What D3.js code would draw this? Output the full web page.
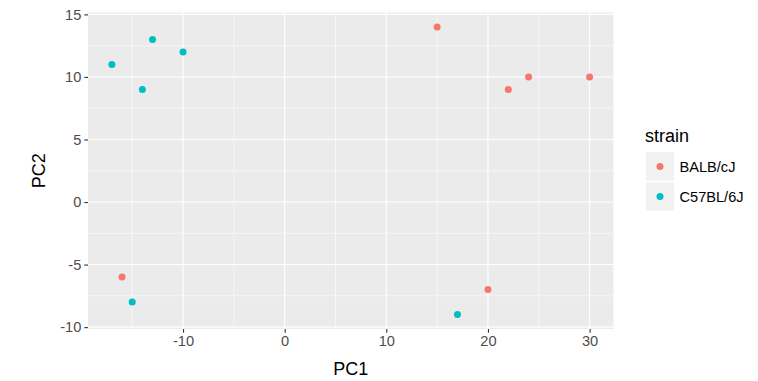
<!DOCTYPE html>
<html>
<head>
<meta charset="utf-8">
<script src="https://cdn.jsdelivr.net/npm/d3@7"></script>
<style>
  body { margin: 0; background: #fff; }
  svg { display: block; }
  text { font-family: "Liberation Sans", Arial, sans-serif; }
</style>
</head>
<body>
<svg id="chart" width="758" height="381"></svg>
<script>
// Data
const strains = ["BALB/cJ", "C57BL/6J"];
const colors = ["#F8766D", "#00BFC4"];
const pc1 = [15, 22, 24, 30, -16, 20, -17, -13, -10, -14, -15, 17];
const pc2 = [14, 9, 10, 10, -6, -7, 11, 13, 12, 9, -8, -9];
const strainOf = ["BALB/cJ", "BALB/cJ", "BALB/cJ", "BALB/cJ", "BALB/cJ", "BALB/cJ",
                  "C57BL/6J", "C57BL/6J", "C57BL/6J", "C57BL/6J", "C57BL/6J", "C57BL/6J"];
const xTicks = [-10, 0, 10, 20, 30];
const xMinor = [-15, -5, 5, 15, 25];
const yTicks = [-10, -5, 0, 5, 10, 15];
const yMinor = [-7.5, -2.5, 2.5, 7.5, 12.5];

const svg = d3.select("#chart");
const panel = { left: 88, right: 613.5, top: 12.5, bottom: 329 };

const xExt = d3.extent(pc1), yExt = d3.extent(pc2);
const xPad = (xExt[1] - xExt[0]) * 0.05, yPad = (yExt[1] - yExt[0]) * 0.05;
const x = d3.scaleLinear().domain([xExt[0] - xPad, xExt[1] + xPad]).range([panel.left, panel.right]);
const y = d3.scaleLinear().domain([yExt[0] - yPad, yExt[1] + yPad]).range([panel.bottom, panel.top]);
const color = d3.scaleOrdinal().domain(strains).range(colors);

// panel background
svg.append("rect")
  .attr("x", panel.left).attr("y", panel.top)
  .attr("width", panel.right - panel.left).attr("height", panel.bottom - panel.top)
  .attr("fill", "#EBEBEB");

const g = svg.append("g");
// minor grid
g.selectAll(".xminor").data(xMinor).enter().append("line")
  .attr("x1", d => x(d)).attr("x2", d => x(d))
  .attr("y1", panel.top).attr("y2", panel.bottom)
  .attr("stroke", "#fff").attr("stroke-width", 0.55);
g.selectAll(".yminor").data(yMinor).enter().append("line")
  .attr("y1", d => y(d)).attr("y2", d => y(d))
  .attr("x1", panel.left).attr("x2", panel.right)
  .attr("stroke", "#fff").attr("stroke-width", 0.55);
// major grid
g.selectAll(".xmajor").data(xTicks).enter().append("line")
  .attr("x1", d => x(d)).attr("x2", d => x(d))
  .attr("y1", panel.top).attr("y2", panel.bottom)
  .attr("stroke", "#fff").attr("stroke-width", 1.1);
g.selectAll(".ymajor").data(yTicks).enter().append("line")
  .attr("y1", d => y(d)).attr("y2", d => y(d))
  .attr("x1", panel.left).attr("x2", panel.right)
  .attr("stroke", "#fff").attr("stroke-width", 1.1);

// axes
const fmt = d => String(d);
const xAxis = svg.append("g")
  .attr("transform", `translate(0,${panel.bottom})`)
  .call(d3.axisBottom(x).tickValues(xTicks).tickSize(3.7).tickPadding(3).tickFormat(fmt));
const yAxis = svg.append("g")
  .attr("transform", `translate(${panel.left},0)`)
  .call(d3.axisLeft(y).tickValues(yTicks).tickSize(3.7).tickPadding(3).tickFormat(fmt));
[xAxis, yAxis].forEach(a => {
  a.select(".domain").remove();
  a.selectAll(".tick line").attr("stroke", "#333").attr("stroke-width", 1.1);
  a.selectAll(".tick text").attr("fill", "#4D4D4D").style("font-size", "14.6px")
    .style("font-family", "'Liberation Sans', Arial, sans-serif");
});

// points
svg.append("g").selectAll("circle").data(pc1.map((v, i) => ({ x: v, y: pc2[i], s: strainOf[i] })))
  .enter().append("circle")
  .attr("cx", d => x(d.x)).attr("cy", d => y(d.y)).attr("r", 3.5)
  .attr("fill", d => color(d.s));

// axis titles
svg.append("text").attr("x", (panel.left + panel.right) / 2).attr("y", 375)
  .attr("text-anchor", "middle").style("font-size", "18px").attr("fill", "#000").text("PC1");
svg.append("text").attr("transform", `translate(44.5,${(panel.top + panel.bottom) / 2}) rotate(-90)`)
  .attr("text-anchor", "middle").style("font-size", "18px").attr("fill", "#000").text("PC2");

// legend
const leg = svg.append("g").attr("transform", "translate(645,0)");
leg.append("text").attr("x", 0).attr("y", 142).style("font-size", "18px").attr("fill", "#000").text("strain");
const keySize = 30;
strains.forEach((s, i) => {
  const top = 151.5 + i * keySize;
  leg.append("rect").attr("x", 0).attr("y", top).attr("width", keySize).attr("height", keySize)
    .attr("fill", "#F2F2F2").attr("stroke", "#fff").attr("stroke-width", 1.5);
  leg.append("circle").attr("cx", keySize / 2).attr("cy", top + keySize / 2).attr("r", 3.5).attr("fill", color(s));
  leg.append("text").attr("x", keySize + 4.5).attr("y", top + keySize / 2).attr("dy", "0.36em")
    .style("font-size", "14.6px").attr("fill", "#000").text(s);
});
</script>
</body>
</html>
